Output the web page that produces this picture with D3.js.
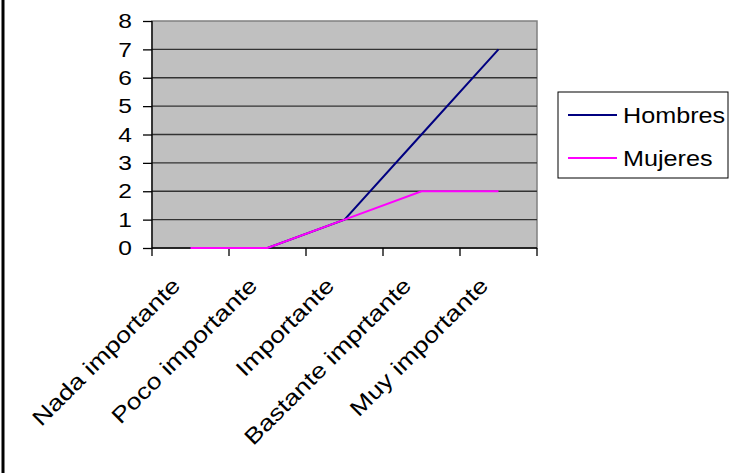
<!DOCTYPE html>
<html>
<head>
<meta charset="utf-8">
<script src="https://cdn.jsdelivr.net/npm/d3@7"></script>
<style>
  body { margin: 0; background: #fff; }
  svg { display: block; font-family: "Liberation Sans", Arial, sans-serif; }
</style>
</head>
<body>
<svg width="734" height="473"></svg>
<script>
var categories = ["Nada importante", "Poco importante", "Importante", "Bastante imprtante", "Muy importante"];
var hombres = [0, 0, 1, 4, 7];
var mujeres = [0, 0, 1, 2, 2];
var yTicks = [0, 1, 2, 3, 4, 5, 6, 7, 8];
var seriesNames = ["Hombres", "Mujeres"];
var seriesColors = ["#000080", "#FF00FF"];

function draw() {
    var svg = d3.select("svg");
    var H = 473;
    var stretch = 1.17; // the original text is drawn wide

    // left edge of the frame (only that one shows)
    svg.append("line")
        .attr("x1", 3).attr("x2", 3)
        .attr("y1", 0).attr("y2", H)
        .attr("stroke", "#000").attr("stroke-width", 3);

    var pl = 152, pr = 537, pt = 21, pb = 248;

    var x = d3.scaleBand().domain(categories).range([pl, pr]);
    var y = d3.scaleLinear().domain([0, 8]).range([pb, pt]);

    // plot area
    svg.append("rect")
        .attr("x", pl).attr("y", pt)
        .attr("width", pr - pl).attr("height", pb - pt)
        .attr("fill", "#C0C0C0").attr("stroke", "#808080").attr("stroke-width", 1.5);

    // gridlines
    svg.append("g").selectAll("line")
        .data(yTicks.slice(1, -1))
        .enter().append("line")
        .attr("x1", pl).attr("x2", pr)
        .attr("y1", function(d) { return y(d); })
        .attr("y2", function(d) { return y(d); })
        .attr("stroke", "#333").attr("stroke-width", 1.3);

    // y axis
    var yAxis = svg.append("g")
        .attr("transform", "translate(" + pl + ",0)")
        .call(d3.axisLeft(y).tickValues(yTicks).tickSize(9).tickPadding(11));
    yAxis.selectAll("text")
        .attr("font-size", 21).attr("fill", "#000")
        .attr("x", -20 / stretch)
        .attr("transform", "scale(" + stretch + ",1)")
        .style("font-family", "\"Liberation Sans\", Arial, sans-serif");
    yAxis.selectAll("line, path").attr("stroke", "#000").attr("stroke-width", 1.3);
    yAxis.select(".domain").attr("d", "M0," + (pb + 0.5) + "V" + pt);

    // x axis line and ticks at band boundaries
    var xg = svg.append("g");
    xg.append("line")
        .attr("x1", pl).attr("x2", pr)
        .attr("y1", pb).attr("y2", pb)
        .attr("stroke", "#000").attr("stroke-width", 1.5);
    var bounds = categories.map(function(c) { return x(c); }).concat([pr]);
    xg.selectAll("line.tk")
        .data(bounds)
        .enter().append("line")
        .attr("class", "tk")
        .attr("x1", function(d) { return d; }).attr("x2", function(d) { return d; })
        .attr("y1", pb).attr("y2", pb + 8)
        .attr("stroke", "#000").attr("stroke-width", 1.3);

    xg.selectAll("text")
        .data(categories)
        .enter().append("text")
        .attr("transform", function(d) {
            return "translate(" + (x(d) + x.bandwidth() / 2 - 9) + "," + (pb + 39) + ") rotate(-45) scale(" + (stretch + 0.05) + ",1)";
        })
        .attr("text-anchor", "end")
        .attr("font-size", 22)
        .text(function(d) { return d; });

    // lines
    var line = d3.line()
        .x(function(d, i) { return x(categories[i]) + x.bandwidth() / 2; })
        .y(function(d) { return y(d); });

    [hombres, mujeres].forEach(function(s, i) {
        svg.append("path")
            .datum(s)
            .attr("d", line)
            .attr("fill", "none")
            .attr("stroke", seriesColors[i])
            .attr("stroke-width", 2);
    });

    // legend
    var lg = svg.append("g");
    lg.append("rect")
        .attr("x", 558).attr("y", 92)
        .attr("width", 170).attr("height", 86)
        .attr("fill", "#fff").attr("stroke", "#000").attr("stroke-width", 1);
    seriesNames.forEach(function(n, i) {
        var ly = 115 + i * 43;
        lg.append("line")
            .attr("x1", 568).attr("x2", 617)
            .attr("y1", ly).attr("y2", ly)
            .attr("stroke", seriesColors[i]).attr("stroke-width", 2);
        lg.append("text")
            .attr("transform", "translate(623," + ly + ") scale(1.12,1)")
            .attr("dy", "0.36em")
            .attr("font-size", 22.5)
            .text(n);
    });
}
draw();
</script>
</body>
</html>
